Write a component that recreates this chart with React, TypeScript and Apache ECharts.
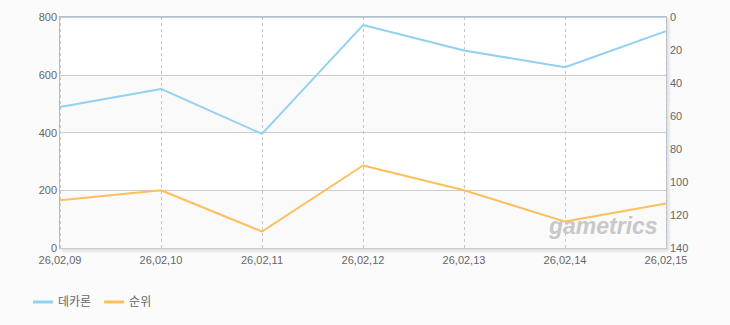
import React, { useEffect, useRef } from "react";
import * as echarts from "echarts";

const categories = ["26,02,09", "26,02,10", "26,02,11", "26,02,12", "26,02,13", "26,02,14", "26,02,15"];
const dekaronValues = [488, 551, 395, 772, 684, 626, 751];
const rankValues = [111, 105, 130, 90, 105, 124, 113];
const seriesNames = ["데카론", "순위"];

const FONT = "'Liberation Sans', 'Noto Sans CJK KR', sans-serif";

export default function App() {
  const ref = useRef<HTMLDivElement>(null);
  useEffect(() => {
    if (!ref.current) return;
    const chart = echarts.init(ref.current, undefined, { renderer: "svg" });
    chart.setOption({
      animation: false,
      backgroundColor: "#fbfbfb",
      textStyle: { fontFamily: FONT },
      grid: {
        left: 60,
        right: 64,
        top: 17,
        bottom: 77,
        show: true,
        backgroundColor: "#ffffff",
        borderColor: "#adc0d4",
        borderWidth: 2,
        shadowColor: "rgba(0,0,0,0.12)",
        shadowBlur: 3,
        shadowOffsetX: 2,
        shadowOffsetY: 2,
      },
      legend: {
        left: 28,
        top: 291,
        itemWidth: 20,
        itemHeight: 3,
        itemGap: 13,
        icon: "rect",
        textStyle: { color: "#666", fontSize: 12, fontFamily: FONT },
        data: seriesNames,
      },
      xAxis: {
        type: "category",
        data: categories,
        boundaryGap: false,
        axisLine: { show: false },
        axisTick: { show: false },
        axisLabel: { color: "#666", fontSize: 11, margin: 6, fontFamily: FONT, interval: 0 },
        splitLine: { show: true, lineStyle: { color: "#c8c8c8", type: [3, 3] } },
      },
      yAxis: [
        {
          type: "value",
          min: 0,
          max: 800,
          interval: 200,
          axisLine: { show: false },
          axisTick: { show: false },
          axisLabel: { color: "#666", fontSize: 11, margin: 3, fontFamily: FONT },
          splitLine: { show: true, lineStyle: { color: "#cccccc", width: 1 } },
          splitArea: { show: true, areaStyle: { color: ["#fafafa", "#ffffff"] } },
        },
        {
          type: "value",
          min: 0,
          max: 140,
          interval: 20,
          inverse: true,
          position: "right",
          axisLine: { show: false },
          axisTick: { show: false },
          axisLabel: { color: "#666", fontSize: 11, margin: 4, fontFamily: FONT },
          splitLine: { show: false },
        },
      ],
      series: [
        {
          name: seriesNames[0],
          type: "line",
          data: dekaronValues,
          yAxisIndex: 0,
          symbol: "none",
          lineStyle: { color: "#92d1f2", width: 2 },
          itemStyle: { color: "#92d1f2" },
        },
        {
          name: seriesNames[1],
          type: "line",
          data: rankValues,
          yAxisIndex: 1,
          symbol: "none",
          lineStyle: { color: "#fdbf5e", width: 2 },
          itemStyle: { color: "#fdbf5e" },
        },
      ],
      graphic: [
        {
          type: "text",
          left: 549,
          top: 214,
          z: 1,
          style: {
            text: "gametrics",
            fill: "#c8c8c8",
            font: "italic bold 23px 'Liberation Sans', Arial, sans-serif",
          },
        },
      ],
    });
    return () => chart.dispose();
  }, []);
  return (
    <div
      ref={ref}
      style={{ position: "fixed", left: 0, top: 0, width: 730, height: 325 }}
    />
  );
}
